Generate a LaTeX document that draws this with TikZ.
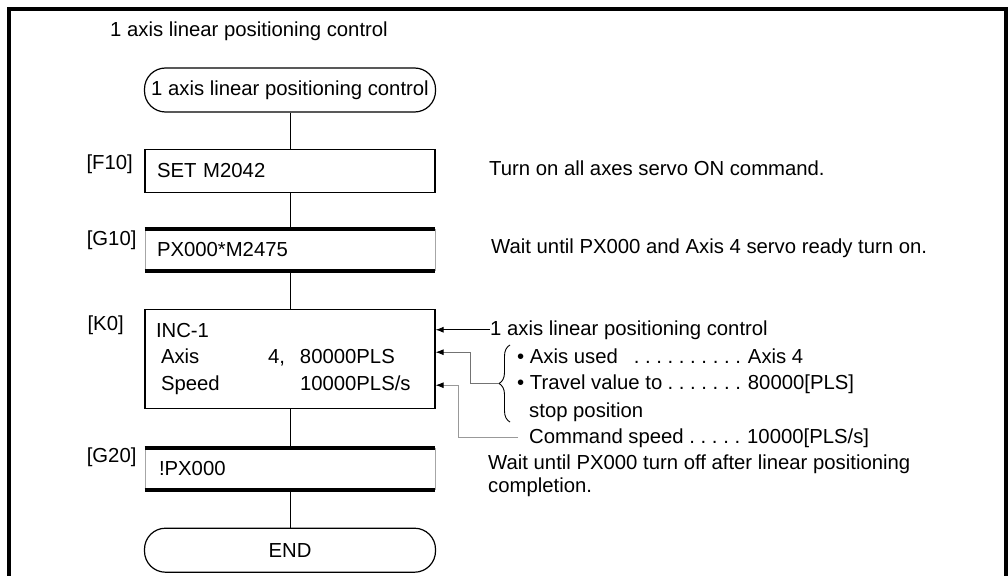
\documentclass[tikz,border=0pt]{standalone}
\usepackage{fontspec}
\setmainfont{Liberation Sans}
\usetikzlibrary{arrows.meta,positioning,calc,decorations.pathreplacing}

\begin{document}
\begin{tikzpicture}[
  x=1pt, y=-1pt,
  font=\fontsize{20.3}{24}\selectfont\frenchspacing,
  term/.style={draw, line width=1.2pt, rounded corners=21pt, minimum width=291pt, minimum height=44pt, inner sep=0pt},
  stepbox/.style={draw, line width=1.2pt, minimum width=290pt, minimum height=43pt, inner xsep=12pt, inner ysep=0pt, text width=266pt, align=left},
  waitbox/.style={stepbox, draw=black!35, line width=0.8pt, minimum height=41pt},
  bar/.style={line width=3.8pt},
  lbl/.style={inner sep=0pt, anchor=west},
  note/.style={inner sep=0pt, anchor=base west, align=left},
  flow/.style={line width=1pt},
  arr/.style={-{Latex[length=8pt, width=6pt, color=black]}, line width=0.8pt}
]
\useasboundingbox (0,0) rectangle (1008,575);
% outer frame, open at the bottom
\draw[line width=4pt] (9,580) -- (9,9.5) -- (1006,9.5) -- (1006,580);
\node[note] (title) at (110,37) {1 axis linear positioning control};

% program steps
\node[term] (start) at (290,90) {1 axis linear positioning control};
\node[stepbox, below=36pt of start] (f10) {SET M2042};
\node[waitbox, below=36pt of f10] (g10) {PX000*M2475};
\node[stepbox, below=38pt of g10, minimum height=99pt, inner xsep=11pt, text width=268pt,
      font=\fontsize{20.3}{26.5}\selectfont] (k0)
  {INC-1\\
   \hspace*{5pt}\makebox[107pt][l]{Axis}\makebox[32pt][l]{4,}80000PLS\\
   \hspace*{5pt}\makebox[139pt][l]{Speed}10000PLS/s};
\node[waitbox, below=39pt of k0, inner xsep=14pt, text width=262pt] (g20) {!PX000};
\node[term, below=38pt of g20] (end) {END};

\foreach \g in {g10, g20} {
  \draw[bar] (\g.north west) -- (\g.north east);
  \draw[bar] (\g.south west) -- (\g.south east);
}

\node[lbl] at ($(f10.north west)+(-58,15.5)$) {[F10]};
\node[lbl] at ($(g10.north west)+(-58,11)$) {[G10]};
\node[lbl] at ($(k0.north west)+(-57,17)$) {[K0]};
\node[lbl] at ($(g20.north west)+(-58,9)$) {[G20]};

\draw[flow] (start) -- (f10);
\draw[flow] (f10) -- (g10);
\draw[flow] (g10) -- (k0);
\draw[flow] (k0) -- (g20);
\draw[flow] (g20) -- (end);

% comments
\node[note] (f10note) at (489,175) {Turn on all axes servo ON command.};
\node[note] (g10note) at (491,253) {Wait until PX000 and Axis 4 servo ready turn on.};
\node[note] (k0note) at (490,335) {1 axis linear positioning control};
\node[note] (axisused) at (517,363) {\textbullet\ \makebox[218pt][l]{Axis used\hfill. . . . . . . . . .\hspace*{7pt}}Axis 4};
\node[note] (travel) at (517,389) {\textbullet\ \makebox[218pt][l]{Travel value to\hfill. . . . . . .\hspace*{7pt}}80000[PLS]};
\node[note] (stoppos) at (529,417) {stop position};
\node[note] (cmdspeed) at (529,443) {\makebox[218pt][l]{Command speed\hfill. . . . .\hspace*{7pt}}10000[PLS/s]};
\node[note, anchor=north west, font=\fontsize{20.3}{23}\selectfont] (g20note) at (488,455)
  {Wait until PX000 turn off after linear positioning\\completion.};

\draw[line width=0.9pt, decorate, decoration={brace, amplitude=11pt}] (510,422) -- (510,345);
\coordinate (bracetip) at (498,383.5);

\draw[arr] (k0note.west) -- (k0note.west -| k0.east);
\draw[arr, draw=black!55] (bracetip) -| ($(k0.east)+(35,-6.5)$) -- ($(k0.east)+(0,-6.5)$);
\draw[arr, draw=black!40] ($(cmdspeed.west)+(-11,0)$) -| ($(k0.east)+(23,26.5)$) -- ($(k0.east)+(0,26.5)$);
\end{tikzpicture}
\end{document}
